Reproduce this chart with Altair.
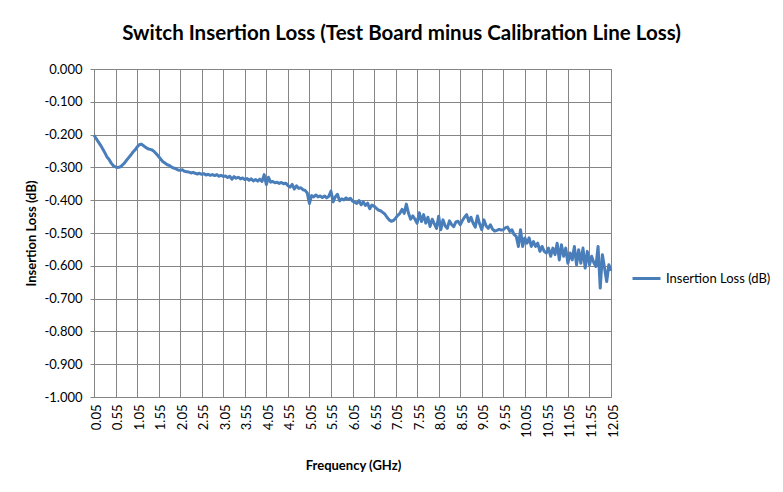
import altair as alt
import pandas as pd

series_name = "Insertion Loss (dB)"
freq_start_ghz = 0.05
freq_step_ghz = 0.05

# Insertion loss (dB), one value every 0.05 GHz from 0.05 to 12.05 GHz
loss_db = [
    -0.202, -0.212, -0.222, -0.232, -0.243, -0.255, -0.268, -0.276, -0.287, -0.295,
    -0.299, -0.300, -0.299, -0.294, -0.288, -0.279, -0.271, -0.263, -0.254, -0.247,
    -0.238, -0.231, -0.229, -0.234, -0.239, -0.243, -0.245, -0.247, -0.252, -0.259,
    -0.267, -0.275, -0.283, -0.287, -0.292, -0.294, -0.299, -0.302, -0.304, -0.308,
    -0.309, -0.307, -0.312, -0.313, -0.314, -0.317, -0.315, -0.318, -0.320, -0.318,
    -0.321, -0.319, -0.323, -0.321, -0.324, -0.322, -0.325, -0.322, -0.327, -0.324,
    -0.328, -0.326, -0.331, -0.327, -0.336, -0.328, -0.333, -0.330, -0.335, -0.332,
    -0.337, -0.334, -0.339, -0.335, -0.341, -0.337, -0.342, -0.336, -0.343, -0.322,
    -0.352, -0.330, -0.345, -0.343, -0.347, -0.345, -0.349, -0.346, -0.350, -0.348,
    -0.355, -0.360, -0.352, -0.366, -0.356, -0.364, -0.362, -0.368, -0.370, -0.378,
    -0.410, -0.386, -0.390, -0.384, -0.390, -0.387, -0.392, -0.387, -0.393, -0.388,
    -0.372, -0.405, -0.390, -0.382, -0.402, -0.396, -0.399, -0.393, -0.398, -0.394,
    -0.403, -0.406, -0.410, -0.401, -0.414, -0.405, -0.416, -0.409, -0.426, -0.415,
    -0.418, -0.424, -0.430, -0.432, -0.437, -0.442, -0.452, -0.460, -0.464, -0.462,
    -0.455, -0.446, -0.440, -0.428, -0.440, -0.412, -0.440, -0.458, -0.448, -0.458,
    -0.470, -0.438, -0.465, -0.444, -0.470, -0.452, -0.480, -0.458, -0.472, -0.486,
    -0.449, -0.490, -0.460, -0.478, -0.486, -0.463, -0.474, -0.481, -0.466, -0.464,
    -0.475, -0.462, -0.452, -0.444, -0.465, -0.452, -0.470, -0.482, -0.448, -0.472,
    -0.490, -0.460, -0.478, -0.486, -0.475, -0.488, -0.494, -0.492, -0.489, -0.491,
    -0.490, -0.484, -0.482, -0.495, -0.490, -0.505, -0.510, -0.541, -0.490, -0.541,
    -0.515, -0.531, -0.515, -0.541, -0.526, -0.541, -0.531, -0.556, -0.541, -0.556,
    -0.561, -0.546, -0.571, -0.546, -0.566, -0.531, -0.582, -0.536, -0.571, -0.546,
    -0.592, -0.561, -0.582, -0.541, -0.597, -0.551, -0.592, -0.546, -0.607, -0.556,
    -0.597, -0.571, -0.590, -0.602, -0.541, -0.668, -0.566, -0.607, -0.648, -0.597,
    -0.615,
]

freq_ghz = [round(freq_start_ghz + i * freq_step_ghz, 2) for i in range(len(loss_db))]

x_tick_labels = [
    0.05, 0.55, 1.05, 1.55, 2.05, 2.55, 3.05, 3.55, 4.05, 4.55, 5.05, 5.55, 6.05,
    6.55, 7.05, 7.55, 8.05, 8.55, 9.05, 9.55, 10.05, 10.55, 11.05, 11.55, 12.05,
]
y_tick_values = [0.0, -0.1, -0.2, -0.3, -0.4, -0.5, -0.6, -0.7, -0.8, -0.9, -1.0]

df = pd.DataFrame({"freq": freq_ghz, "loss": loss_db, "series": series_name})

grid_gray = "#858585"
label_font = "Lato"

chart = (
    alt.Chart(df)
    .mark_line(strokeWidth=3, strokeJoin="round")
    .encode(
        x=alt.X(
            "freq:Q",
            scale=alt.Scale(domain=[0.05, 12.05], nice=False, zero=False),
            axis=alt.Axis(
                values=x_tick_labels,
                format=".2f",
                labelAngle=-90,
                labelFont=label_font,
                labelFontSize=13,
                labelColor="#000000",
                labelPadding=7,
                labelOffset=2,
                ticks=False,
                grid=True,
                gridColor=grid_gray,
                domainColor=grid_gray,
                title="Frequency (GHz)",
                titleFont=label_font,
                titleFontSize=13,
                titleFontWeight="bold",
                titleColor="#000000",
                titleX=259,
                titleY=68,
                titleBaseline="middle",
                titleAlign="center",
            ),
        ),
        y=alt.Y(
            "loss:Q",
            scale=alt.Scale(domain=[-1.0, 0.0], nice=False),
            axis=alt.Axis(
                values=y_tick_values,
                labelExpr="(datum.value < -0.0001 ? '-' : '') + format(abs(datum.value), '.3f')",
                labelFont=label_font,
                labelFontSize=13,
                labelColor="#000000",
                labelPadding=8,
                tickSize=4,
                tickColor=grid_gray,
                grid=True,
                gridColor=grid_gray,
                domainColor=grid_gray,
                title="Insertion Loss (dB)",
                titleFont=label_font,
                titleFontSize=13,
                titleFontWeight="bold",
                titleColor="#000000",
                titleX=-63,
                titleY=164,
                titleBaseline="middle",
                titleAlign="center",
            ),
        ),
        color=alt.Color(
            "series:N",
            scale=alt.Scale(domain=[series_name], range=["#4a7ebb"]),
            legend=alt.Legend(
                title=None,
                orient="none",
                legendX=537,
                legendY=194,
                symbolType="stroke",
                symbolSize=784,
                symbolStrokeWidth=3,
                labelFont=label_font,
                labelFontSize=13,
                labelColor="#000000",
                labelOffset=4,
                padding=0,
            ),
        ),
    )
    .properties(
        width=517,
        height=328,
        title=alt.TitleParams(
            text="Switch Insertion Loss (Test Board minus Calibration Line Loss)",
            font="Lato",
            fontSize=20.5,
            fontWeight="bold",
            color="#000000",
            anchor="middle",
            frame="group",
            dx=49,
            offset=19,
        ),
        autosize=alt.AutoSizeParams(type="none"),
        padding={"left": 86, "top": 61, "right": 164, "bottom": 87},
        background="#ffffff",
    )
    .configure_view(stroke=grid_gray)
)

chart.save("out.html", embed_options={"renderer": "svg", "actions": False})
